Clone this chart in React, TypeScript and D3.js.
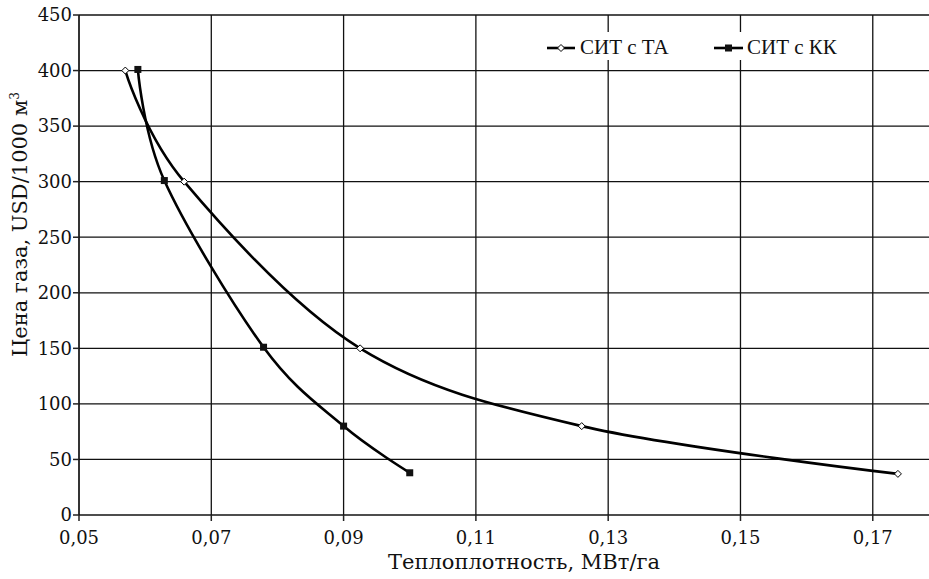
import React from "react";
import * as d3 from "d3";

const xTicks = [0.05, 0.07, 0.09, 0.11, 0.13, 0.15, 0.17];
const yTicks = [0, 50, 100, 150, 200, 250, 300, 350, 400, 450];

const taX = [0.057, 0.0659, 0.0925, 0.126, 0.1738];
const taY = [400, 300, 150, 80, 37];
const kkX = [0.0589, 0.0629, 0.0779, 0.09, 0.1];
const kkY = [401, 301, 151, 80, 38];

const seriesNames = ["СИТ с ТА", "СИТ с КК"];
const xTitle = "Теплоплотность, МВт/га";
const yTitle = "Цена газа, USD/1000 м";

export default function App() {
  const W = 929, H = 579;
  const x = d3.scaleLinear().domain([0.05, 0.1785]).range([79, 929]);
  const y = d3.scaleLinear().domain([0, 450]).range([515, 15]);
  const line = d3
    .line<[number, number]>()
    .x((d) => x(d[0]))
    .y((d) => y(d[1]))
    .curve(d3.curveCardinal.tension(0));
  const ta: [number, number][] = taX.map((v, i) => [v, taY[i]]);
  const kk: [number, number][] = kkX.map((v, i) => [v, kkY[i]]);
  const fmt = (v: number) => d3.format(".2f")(v).replace(".", ",");
  const font = "DejaVu Serif";
  const diamond = (cx: number, cy: number, r: number) =>
    `M${cx},${cy - r}L${cx + r},${cy}L${cx},${cy + r}L${cx - r},${cy}Z`;

  return (
    <svg
      width={W}
      height={H}
      style={{ position: "absolute", left: 0, top: 0, background: "#fff" }}
    >
      {/* grid */}
      {yTicks.map((t) => (
        <line key={"gy" + t} x1={79} x2={929} y1={y(t)} y2={y(t)} stroke="#111" strokeWidth={t === 0 || t === 450 ? 2 : 1.3} strokeOpacity={t === 0 || t === 450 ? 0.75 : 1} />
      ))}
      {xTicks.map((t) => (
        <line key={"gx" + t} x1={x(t)} x2={x(t)} y1={15} y2={515} stroke="#111" strokeWidth={t === 0.05 ? 2 : 1.3} strokeOpacity={t === 0.05 ? 0.85 : 1} />
      ))}
      {/* ticks */}
      {yTicks.map((t) => (
        <line key={"ty" + t} x1={73} x2={79} y1={y(t)} y2={y(t)} stroke="#222" strokeWidth={1.5} />
      ))}
      {xTicks.map((t) => (
        <line key={"tx" + t} x1={x(t)} x2={x(t)} y1={515} y2={521} stroke="#222" strokeWidth={1.5} />
      ))}
      {/* tick labels */}
      {yTicks.map((t) => (
        <text key={"ly" + t} x={72} y={y(t)} dy="0.35em" textAnchor="end" fontFamily={font} fontSize={18} fill="#111">
          {t}
        </text>
      ))}
      {xTicks.map((t) => (
        <text key={"lx" + t} x={x(t)} y={544} textAnchor="middle" fontFamily={font} fontSize={18} fill="#111">
          {fmt(t)}
        </text>
      ))}
      {/* axis titles */}
      <text x={524} y={569} textAnchor="middle" fontFamily={font} fontSize={21} fill="#111">
        {xTitle}
      </text>
      <text transform="translate(27,357) rotate(-90)" textAnchor="start" fontFamily={font} fontSize={21} fill="#111">
        {yTitle}
        <tspan dy={-8} fontSize={12}>3</tspan>
      </text>
      {/* series */}
      <path d={line(ta) || ""} fill="none" stroke="#000" strokeWidth={2.6} />
      <path d={line(kk) || ""} fill="none" stroke="#000" strokeWidth={2.6} />
      {ta.map((d, i) => (
        <path key={"m1" + i} d={diamond(x(d[0]), y(d[1]), 3.5)} fill="#fff" stroke="#000" strokeWidth={1} />
      ))}
      {kk.map((d, i) => (
        <rect key={"m2" + i} x={x(d[0]) - 3.5} y={y(d[1]) - 3.5} width={7} height={7} fill="#111" />
      ))}
      {/* legend */}
      <rect x={538} y={32} width={312} height={28} fill="#fff" />
      <line x1={547} x2={575} y1={48} y2={48} stroke="#000" strokeWidth={2.6} />
      <path d={diamond(561, 48, 3.5)} fill="#fff" stroke="#000" strokeWidth={1} />
      <text x={580} y={54} fontFamily="Liberation Serif" fontSize={21} fill="#111">
        {seriesNames[0]}
      </text>
      <line x1={714} x2={743} y1={48} y2={48} stroke="#000" strokeWidth={2.6} />
      <rect x={725} y={44.5} width={7} height={7} fill="#111" />
      <text x={747} y={54} fontFamily="Liberation Serif" fontSize={21} fill="#111">
        {seriesNames[1]}
      </text>
    </svg>
  );
}
